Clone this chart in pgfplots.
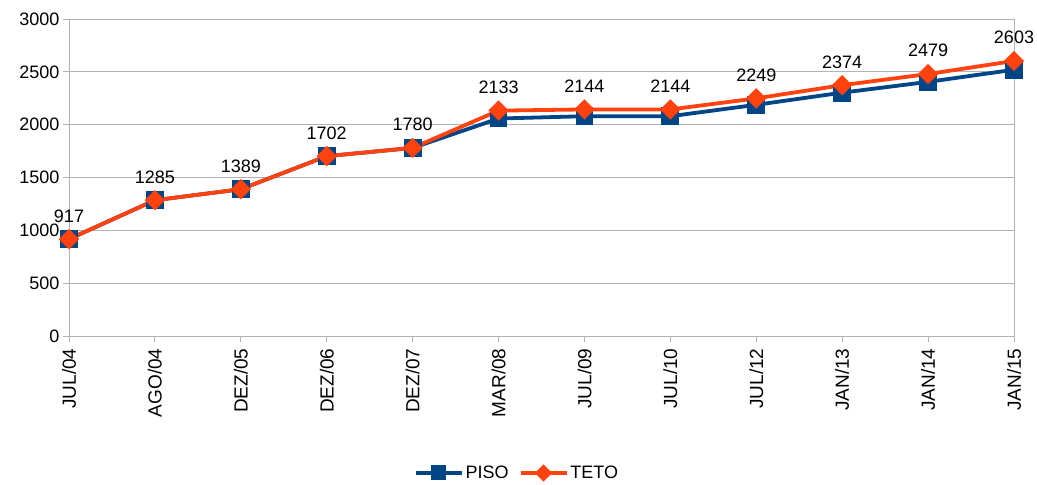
\documentclass[border=0pt]{standalone}
\usepackage{fontspec}
\setmainfont{Liberation Sans}
\usepackage{pgfplots}
\pgfplotsset{compat=1.18}
\definecolor{piso}{HTML}{004586}
\definecolor{teto}{HTML}{FF420E}
\definecolor{gridc}{HTML}{B3B3B3}
\begin{document}
\begin{tikzpicture}
\useasboundingbox (-69bp,-149bp) rectangle (968bp,336bp);
\begin{axis}[
  at={(0,0)}, anchor=south west,
  scale only axis, width=945bp, height=317bp,
  xmin=0, xmax=11, ymin=0, ymax=3000,
  xtick={0,...,11},
  xticklabels={JUL/04,AGO/04,DEZ/05,DEZ/06,DEZ/07,MAR/08,JUL/09,JUL/10,JUL/12,JAN/13,JAN/14,JAN/15},
  ytick={0,500,...,3000},
  /pgf/number format/assume math mode=true,
  /pgf/number format/1000 sep={},
  font=\fontsize{18bp}{21bp}\selectfont,
  x tick label style={rotate=90, anchor=east, font=\fontsize{19bp}{22bp}\selectfont},
  xticklabel shift=3bp,
  ymajorgrids, major grid style={gridc, line width=1pt},
  axis line style={gridc, line width=1pt},
  axis x line*=bottom, axis y line*=left,
  tick style={gridc, line width=1pt},
  tick align=outside, major tick length=6bp,
  clip=false,
  legend style={at={(0.474,-0.432)}, anchor=center, draw=none, legend columns=2,
    /tikz/every even column/.append style={column sep=8bp}},
  legend cell align=left,
  legend image code/.code={\draw[#1, every mark/.append style={scale=0.8}, mark repeat=2, mark phase=2] plot coordinates {(0bp,0bp) (23bp,0bp) (46bp,0bp)};},
]
\draw[gridc, line width=1pt] (rel axis cs:1,0) -- (rel axis cs:1,1);
\addplot[piso, line width=3.8bp, mark=square*, mark size=7bp, mark options={solid}] coordinates {
(0,917) (1,1285) (2,1389) (3,1702) (4,1780) (5,2058) (6,2080) (7,2080) (8,2188) (9,2303) (10,2405) (11,2520)
};
\addlegendentry{PISO}
\addplot[teto, line width=3.8bp, mark=square*, mark size=5.3bp, mark options={solid, rotate=45},
  nodes near coords, point meta=explicit symbolic,
  every node near coord/.append style={black, anchor=south, inner sep=0pt, yshift=15bp, font=\fontsize{18bp}{21bp}\selectfont}]
  table[meta=l] {
x y l
0 917 917
1 1285 1285
2 1389 1389
3 1702 1702
4 1780 1780
5 2133 2133
6 2144 2144
7 2144 2144
8 2249 2249
9 2374 2374
10 2479 2479
11 2603 2603
};
\addlegendentry{TETO}
\end{axis}
\end{tikzpicture}
\end{document}
